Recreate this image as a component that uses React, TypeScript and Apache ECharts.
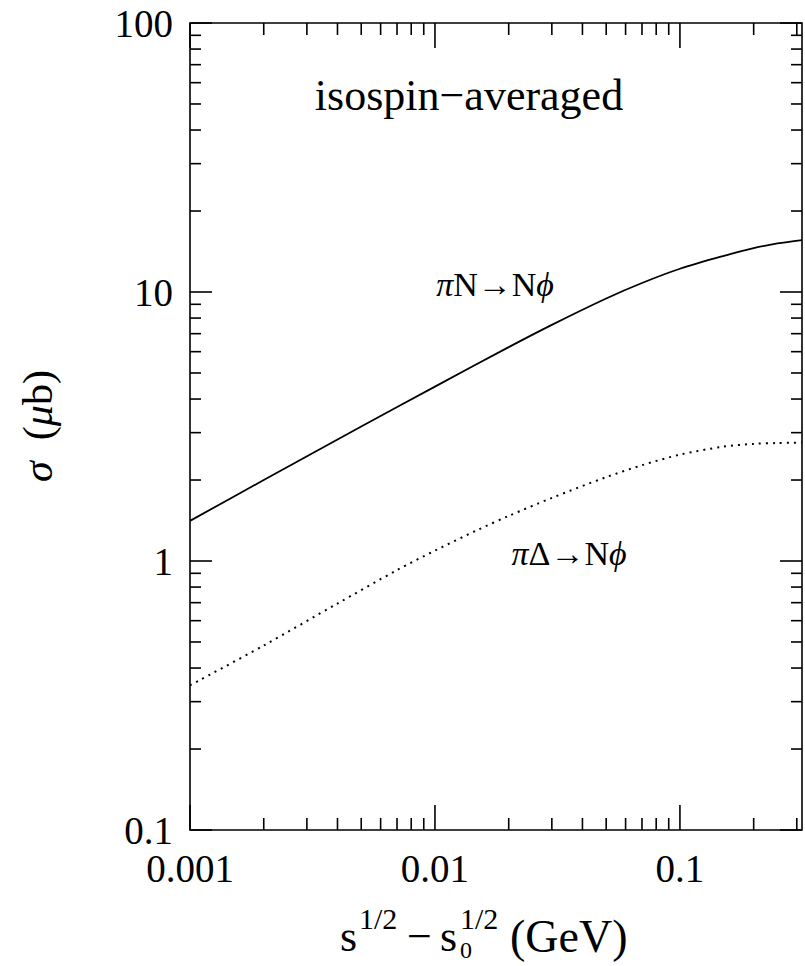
import React, { useEffect, useRef } from "react";
import * as echarts from "echarts";

// ---- data ----
const piN_x = [0.001, 0.002, 0.005, 0.01, 0.02, 0.03, 0.05, 0.07, 0.1, 0.15, 0.2, 0.25, 0.315];
const piN_y = [1.41, 2.0, 3.16, 4.45, 6.24, 7.55, 9.46, 10.8, 12.2, 13.6, 14.55, 15.15, 15.6];

const piD_x = [0.001, 0.002, 0.004, 0.007, 0.01, 0.015, 0.02, 0.03, 0.05, 0.07, 0.1, 0.15, 0.2, 0.25, 0.315];
const piD_y = [0.345, 0.485, 0.695, 0.925, 1.093, 1.307, 1.471, 1.716, 2.05, 2.27, 2.485, 2.66, 2.725, 2.745, 2.755];

const xMajorTicks = [0.001, 0.01, 0.1];
const xMinorTicks = [0.002, 0.003, 0.004, 0.005, 0.006, 0.007, 0.008, 0.009, 0.02, 0.03, 0.04, 0.05, 0.06, 0.07, 0.08, 0.09, 0.2, 0.3];
const xTickLabels: Record<string, string> = { "-3": "0.001", "-2": "0.01", "-1": "0.1" };

const yMajorTicks = [0.1, 1, 10, 100];
const yMinorTicks = [0.2, 0.3, 0.4, 0.5, 0.6, 0.7, 0.8, 0.9, 2, 3, 4, 5, 6, 7, 8, 9, 20, 30, 40, 50, 60, 70, 80, 90];
const yTickLabels: Record<string, string> = { "-1": "0.1", "0": "1", "1": "10", "2": "100" };

const X_MIN = 0.001;
const X_MAX = 0.315;
const Y_MIN = 0.1;
const Y_MAX = 100;

const FONT = "'Liberation Serif', 'DejaVu Serif', serif";

function expKey(v: number): string | null {
  const e = Math.log10(v);
  const r = Math.round(e);
  if (Math.abs(e - r) < 1e-6) return String(r);
  return null;
}

function txt(x: number, y: number, text: string, size: number, extra: any = {}) {
  return {
    type: "text",
    x,
    y,
    silent: true,
    style: {
      text,
      fontFamily: FONT,
      fontSize: size,
      fill: "#000",
      align: "left",
      verticalAlign: "middle",
      ...extra,
    },
  };
}

export default function App() {
  const ref = useRef<HTMLDivElement>(null);

  useEffect(() => {
    if (!ref.current) return;
    const chart = echarts.init(ref.current, null, { renderer: "svg" });

    const xTickData = [
      ...xMajorTicks.map((v) => [v, 1, 1]),
      ...xMinorTicks.map((v) => [v, 1, 0]),
    ];
    const yTickData = [
      ...yMajorTicks.map((v) => [0.01, v, 1]),
      ...yMinorTicks.map((v) => [0.01, v, 0]),
    ];

    const tickStyle = { stroke: "#000", lineWidth: 1.6 };
    const italic = { fontFamily: FONT, fontStyle: "italic", fill: "#000" };

    const option: any = {
      animation: false,
      backgroundColor: "#fff",
      grid: {
        left: 190,
        right: 3,
        top: 23,
        bottom: 136,
        show: true,
        borderColor: "#000",
        borderWidth: 1.6,
        backgroundColor: "transparent",
      },
      xAxis: {
        type: "log",
        min: X_MIN,
        max: X_MAX,
        logBase: 10,
        axisLine: { show: false },
        axisTick: { show: false },
        splitLine: { show: false },
        minorTick: { show: false },
        axisLabel: {
          margin: 19,
          fontFamily: FONT,
          fontSize: 39,
          color: "#000",
          showMaxLabel: false,
          formatter: (v: number) => {
            const k = expKey(v);
            return k !== null && xTickLabels[k] ? xTickLabels[k] : "";
          },
        },
      },
      yAxis: {
        type: "log",
        min: Y_MIN,
        max: Y_MAX,
        logBase: 10,
        axisLine: { show: false },
        axisTick: { show: false },
        splitLine: { show: false },
        minorTick: { show: false },
        axisLabel: {
          margin: 17,
          fontFamily: FONT,
          fontSize: 39,
          color: "#000",
          formatter: (v: number) => {
            const k = expKey(v);
            return k !== null && yTickLabels[k] ? yTickLabels[k] : "";
          },
        },
      },
      series: [
        {
          name: "πN→Nϕ",
          type: "line",
          data: piN_x.map((x, i) => [x, piN_y[i]]),
          smooth: 0.3,
          showSymbol: false,
          symbol: "none",
          lineStyle: { color: "#000", width: 1.8, type: "solid" },
          silent: true,
        },
        {
          name: "πΔ→Nϕ",
          type: "line",
          data: piD_x.map((x, i) => [x, piD_y[i]]),
          smooth: 0.3,
          showSymbol: false,
          symbol: "none",
          lineStyle: { color: "#000", width: 2, type: [2, 5] },
          silent: true,
        },
        {
          type: "custom",
          silent: true,
          data: xTickData,
          renderItem: (params: any, api: any) => {
            const cs = params.coordSys;
            const x = api.coord([api.value(0), 1])[0];
            const len = api.value(2) ? 25 : 12;
            const bottom = cs.y + cs.height;
            return {
              type: "group",
              children: [
                { type: "line", shape: { x1: x, y1: bottom, x2: x, y2: bottom - len }, style: tickStyle },
                { type: "line", shape: { x1: x, y1: cs.y, x2: x, y2: cs.y + len }, style: tickStyle },
              ],
            };
          },
        },
        {
          type: "custom",
          silent: true,
          data: yTickData,
          renderItem: (params: any, api: any) => {
            const cs = params.coordSys;
            const y = api.coord([0.01, api.value(1)])[1];
            const len = api.value(2) ? 22 : 11;
            const right = cs.x + cs.width;
            return {
              type: "group",
              children: [
                { type: "line", shape: { x1: cs.x, y1: y, x2: cs.x + len, y2: y }, style: tickStyle },
                { type: "line", shape: { x1: right, y1: y, x2: right - len, y2: y }, style: tickStyle },
              ],
            };
          },
        },
      ],
      graphic: [
        txt(469, 95, "isospin−averaged", 44, { align: "center" }),
        txt(495, 284, "{i|π}N→N{i|ϕ}", 34, {
          align: "center",
          rich: { i: { ...italic, fontSize: 34 } },
        }),
        txt(569, 553, "{i|π}Δ→N{i|ϕ}", 34, {
          align: "center",
          rich: { i: { ...italic, fontSize: 34 } },
        }),
        {
          ...txt(38, 426, "{i|σ}  ({i|μ}b)", 42, {
            align: "center",
            rich: { i: { ...italic, fontSize: 42 } },
          }),
          rotation: Math.PI / 2,
        },
        // x-axis title: s^{1/2} − s_0^{1/2} (GeV)
        txt(340, 936, "s", 44),
        txt(359, 918, "1/2", 30),
        txt(407, 936, "−", 44),
        txt(440, 936, "s", 44),
        txt(460, 950, "0", 24),
        txt(460, 918, "1/2", 30),
        txt(510, 936, "(GeV)", 46),
      ],
    };

    chart.setOption(option);
    return () => chart.dispose();
  }, []);

  return (
    <div
      ref={ref}
      style={{ position: "absolute", left: 0, top: 0, width: 805, height: 966, background: "#fff" }}
    />
  );
}
